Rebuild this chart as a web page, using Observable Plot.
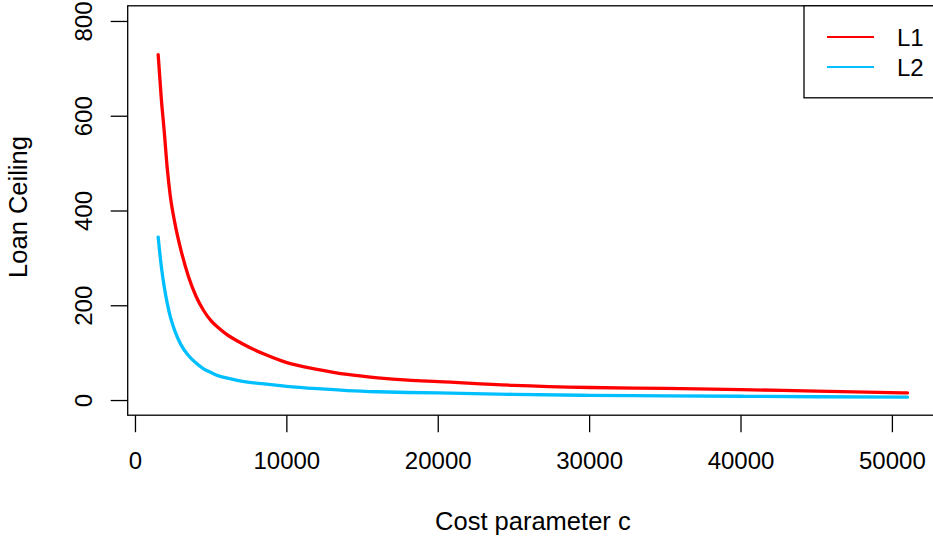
<!DOCTYPE html>
<html>
<head>
<meta charset="utf-8">
<script src="https://cdn.jsdelivr.net/npm/d3@7"></script>
<script src="https://cdn.jsdelivr.net/npm/@observablehq/plot@0.6"></script>
<style>
  html, body { margin: 0; padding: 0; background: #fff; }
  #chart { width: 933px; height: 546px; }
</style>
</head>
<body>
<div id="chart"></div>
<script>
// Data
const cost = [1500, 1700, 1900, 2100, 2300, 2600, 3000, 3500, 4000, 4500, 5000, 5500, 6000, 7000, 8500, 10000, 12000, 14000, 16000, 18000, 20000, 25000, 30000, 35000, 40000, 45000, 51000];
const loanL1 = [730, 640, 568, 490, 432, 375, 318, 262, 220, 190, 168, 153, 140, 121, 98, 80, 66, 55, 48, 43, 40, 32, 27.5, 25.5, 23, 20, 16];
const loanL2 = [345, 285, 240, 205, 177, 147, 118, 95, 79, 67, 59, 52, 48, 41, 35, 30, 25, 21, 18.5, 17, 16, 13, 11, 10, 9, 8, 7];
const seriesNames = ["L1", "L2"];
const seriesColors = ["#ff0000", "#00bfff"];
const xTicks = [0, 10000, 20000, 30000, 40000, 50000];
const yTicks = [0, 200, 400, 600, 800];
const xLabel = "Cost parameter c";
const yLabel = "Loan Ceiling";

const rows = [];
seriesNames.forEach((name, si) => {
  const vals = si === 0 ? loanL1 : loanL2;
  cost.forEach((c, i) => rows.push({series: name, c, v: vals[i]}));
});

// R-style 4% padding of the axis limits
const xMin = d3.min(cost), xMax = d3.max(cost);
const xPad = (xMax - xMin) * 0.04;
const xDomain = [xMin - xPad, xMax + xPad];
const yLim = [0, 800];
const yPad = (yLim[1] - yLim[0]) * 0.04;
const yDomain = [yLim[0] - yPad, yLim[1] + yPad];

const W = 933, H = 546;
const padLeft = 127.7, rangeRight = 937;
const padTop = 5.8, frameBottom = 415.2;

const plot = Plot.plot({
  width: W,
  height: H,
  marginLeft: padLeft,
  marginRight: 0,
  marginTop: padTop,
  marginBottom: H - frameBottom,
  style: {fontFamily: "'Liberation Sans', Arial, Helvetica, sans-serif", fontSize: "24px", background: "#fff", color: "#000", overflow: "visible"},
  x: {domain: xDomain, range: [padLeft, rangeRight]},
  y: {domain: yDomain},
  marks: [
    Plot.line(rows, {x: "c", y: "v", z: "series", stroke: d => seriesColors[seriesNames.indexOf(d.series)], strokeWidth: 3.3, curve: "monotone-x"}),
    Plot.rect([0], {x1: () => xDomain[0], x2: () => xDomain[1], y1: () => yDomain[0], y2: () => yDomain[1], fill: "none", stroke: "#000", strokeWidth: 1.3}),
    Plot.axisX(xTicks, {tickSize: 17, tickPadding: 19, tickFormat: d => String(d), stroke: "#000", strokeWidth: 1.3, fontSize: 24, label: null}),
    Plot.axisY(yTicks, {tickSize: 17, tickFormat: () => "", stroke: "#000", strokeWidth: 1.3, label: null}),
    Plot.text(yTicks, {y: d => d, frameAnchor: "left", dx: -44, rotate: -90, textAnchor: "middle", lineAnchor: "middle", text: d => String(d), fontSize: 24, fill: "#000"}),
    Plot.text([xLabel], {frameAnchor: "bottom", x: () => (xDomain[0] + xDomain[1]) / 2, dy: 114, textAnchor: "middle", text: d => d, fontSize: 25.5, fill: "#000"}),
    Plot.text([yLabel], {frameAnchor: "left", y: () => (yDomain[0] + yDomain[1]) / 2, dx: -109, dy: -4, rotate: -90, textAnchor: "middle", lineAnchor: "middle", text: d => d, fontSize: 25.5, fill: "#000"})
  ]
});

// Legend box (top right, like R's legend("topright"))
const svg = d3.select(plot);
const lg = svg.append("g").attr("class", "legend");
lg.append("rect").attr("x", 804).attr("y", padTop).attr("width", 200).attr("height", 92)
  .attr("fill", "#fff").attr("stroke", "#000").attr("stroke-width", 1.3);
seriesNames.forEach((name, i) => {
  const cy = 37 + i * 30;
  lg.append("line").attr("x1", 827).attr("x2", 874).attr("y1", cy).attr("y2", cy)
    .attr("stroke", seriesColors[i]).attr("stroke-width", 2);
  lg.append("text").attr("x", 897).attr("y", cy).attr("dy", "0.36em")
    .attr("text-anchor", "start")
    .attr("font-size", 24).attr("fill", "#000").text(name);
});

document.getElementById("chart").appendChild(plot);
</script>
</body>
</html>
